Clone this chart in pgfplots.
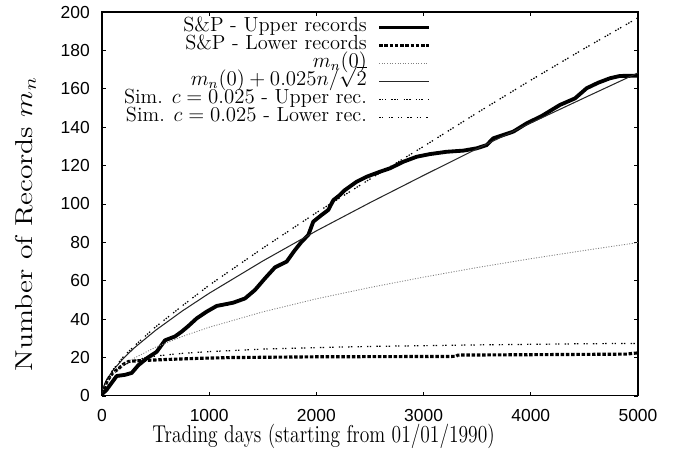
\documentclass[border=0pt]{standalone}
\usepackage{fontspec}
\usepackage{graphicx}
\usepackage{pgfplots}
\pgfplotsset{compat=1.18}
\newfontfamily\helv{Liberation Sans}
\begin{document}
\begin{tikzpicture}
\path[use as bounding box] (-58.5pt,-34.4pt) rectangle (331.5pt,227.1pt);
\begin{axis}[
  at={(0,0)}, anchor=south west,
  scale only axis, width=307.4pt, height=220.2pt,
  xmin=0, xmax=5000, ymin=0, ymax=200,
  xtick={0,1000,2000,3000,4000,5000},
  ytick={0,20,40,60,80,100,120,140,160,180,200},
  scaled ticks=false,
  tick align=inside, major tick length=2.5pt,
  axis line style={line width=0.6pt},
  every tick/.style={black, line width=0.5pt},
  /pgf/number format/assume math mode=true,
  /pgf/number format/1000 sep={},
  ticklabel style={font=\helv\fontsize{10}{12}\selectfont},
  yticklabel style={xshift=-3.5pt},
  xticklabel style={yshift=-4pt},
  xlabel={\scalebox{1}[1.25]{Trading days (starting from 01/01/1990)}},
  ylabel={Number of Records $m_n$},
  xlabel style={at={(axis description cs:0.4135,-0.122)}, anchor=base, font=\fontsize{11.2}{13}\selectfont},
  ylabel style={at={(axis description cs:-0.1305,0.447)}, anchor=base, xscale=1.21, font=\fontsize{14}{16}\selectfont},
  legend plot pos=right,
  legend cell align=right,
  legend image code/.code={\draw[#1] (0cm,0cm) -- (1cm,0cm);},
  legend style={at={(axis description cs:0.614,0.984)}, anchor=north east, draw=none, fill=none,
    inner sep=0pt, font=\fontsize{11.7}{12}\selectfont, row sep=0pt, column sep=6pt,
    nodes={text height=7.3pt, text depth=3pt, inner sep=0pt}},
]
% S&P upper records
\addplot[black, line width=2.2pt, line join=round] coordinates {
(0,1) (40,3) (75,5.7) (137,10.4) (214,11) (277,12) (339,16) (417,19.6) (510,23)
(588,29) (681,31) (743,33.5) (805,36.4) (883,40.4) (976,43.9) (1070,46.9) (1163,47.9)
(1225,48.6) (1334,50.8) (1427,55.2) (1521,61.3) (1614,67) (1723,70) (1800,76)
(1863,80.4) (1925,83.9) (1971,90.8) (2049,94.3) (2111,96.9) (2158,102) (2220,104.7)
(2260,107) (2375,111.6) (2469,114.2) (2593,116.8) (2687,118.6) (2811,122) (2935,124.6)
(3060,126) (3215,127.2) (3370,127.8) (3495,129) (3589,130.7) (3650,134.2) (3837,137.7)
(3961,142) (4101,145.8) (4272,151.6) (4412,155) (4521,160.3) (4630,163.2) (4739,165.5)
(4832,166.7) (4988,166.8) (5000,167)
};
\addlegendentry{S\&P - Upper records}
% S&P lower records
\addplot[black, line width=1.8pt, dash pattern=on 2pt off 1pt] coordinates {
(0,1) (20,4) (50,8) (100,12) (150,14) (200,16.5) (250,18) (350,18.4) (600,19)
(900,19.6) (1200,20) (2000,20.4) (3300,20.6) (3320,21.3) (4000,21.5) (4900,21.8)
(4950,22.2) (5000,22.4)
};
\addlegendentry{S\&P - Lower records}
% m_n(0)
\addplot[gray, line width=0.5pt, dash pattern=on 0.6pt off 0.9pt] coordinates {
(0,1) (10,3.7) (25,5.8) (50,8.1) (100,11.4) (200,16.1) (300,19.7) (500,25.4)
(750,31.0) (1000,35.8) (1500,43.8) (2000,50.6) (2500,56.5) (3000,61.9) (3500,66.9)
(4000,71.5) (4500,75.8) (5000,79.9)
};
\addlegendentry{$m_n(0)$}
% m_n(0) + 0.025 n / sqrt 2
\addplot[black!85, line width=0.6pt] coordinates {
(0,1) (10,3.9) (25,6.2) (50,9.0) (100,13.2) (200,19.6) (300,25.0) (500,34.2)
(750,44.3) (1000,53.5) (1500,70.3) (2000,86.0) (2500,100.7) (3000,114.9) (3500,128.8)
(4000,142.2) (4500,155.3) (5000,168.3)
};
\addlegendentry{$m_n(0)+0.025n/\sqrt{2}$}
% Sim upper
\addplot[black, line width=0.7pt, dash pattern=on 0.8pt off 0.8pt on 0.8pt off 0.8pt on 0.8pt off 3pt] coordinates {
(0,1) (25,6) (50,9) (100,13.5) (200,20.5) (300,26) (500,36) (750,47) (1000,57.7)
(1500,77) (2000,95.5) (2500,113) (3000,130) (3500,147.5) (4000,164.5) (4500,181)
(5000,197)
};
\addlegendentry{Sim. $c=0.025$ - Upper rec.}
% Sim lower
\addplot[black, line width=0.7pt, dash pattern=on 0.8pt off 0.8pt on 0.8pt off 3pt] coordinates {
(0,1) (10,3.5) (25,6) (50,8.5) (100,11.5) (150,14) (200,16) (300,18.5) (400,19.8)
(500,20.8) (750,22.2) (1000,23.1) (1500,24.4) (2000,25.2) (2500,25.8) (3000,26.2)
(3500,26.6) (4000,26.9) (4500,27.2) (5000,27.4)
};
\addlegendentry{Sim. $c=0.025$ - Lower rec.}
\end{axis}
\end{tikzpicture}
\end{document}
